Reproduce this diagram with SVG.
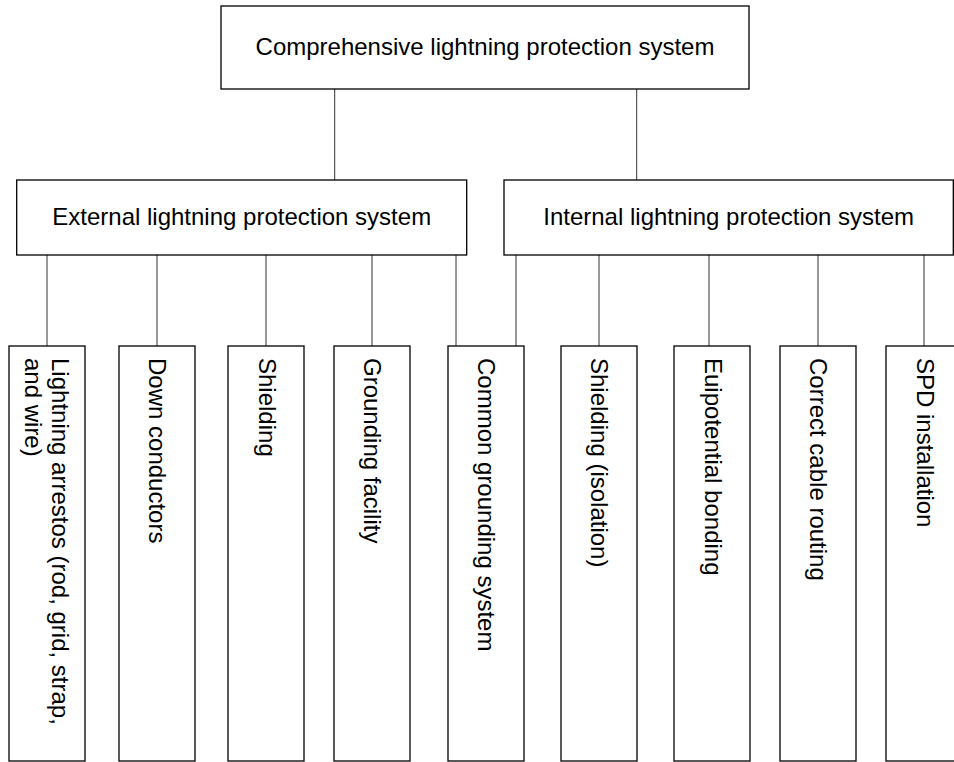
<svg xmlns="http://www.w3.org/2000/svg" width="954" height="762" viewBox="0 0 954 762">
<style>
.box{fill:#fff;stroke:#000;stroke-width:1.3}
.t{font-family:"Liberation Sans",Arial,sans-serif;font-size:24px;fill:#000}
.c{text-anchor:middle}
.ln{stroke:#333;stroke-width:1;fill:none}
</style>
<rect width="954" height="762" fill="#fff"/>
<g id="connectors">
<path class="ln" d="M334.7 89V180M636.7 89V180"/>
<path class="ln" d="M47 255V346M157 255V346M266 255V346M372 255V346M456 255V346"/>
<path class="ln" d="M516 255V346M599 255V346M709 255V346M818 255V346M924 255V346"/>
</g>
<g id="root"><rect class="box" x="221" y="6" width="528" height="83"/><text class="t c" x="485" y="55">Comprehensive lightning protection system</text></g>
<g id="external"><rect class="box" x="16.7" y="180" width="450" height="75"/><text class="t c" x="241.7" y="225">External lightning protection system</text></g>
<g id="internal"><rect class="box" x="504" y="180" width="449.3" height="75"/><text class="t c" x="728.7" y="225">Internal lightning protection system</text></g>
<g id="n1"><rect class="box" x="9" y="346" width="76" height="415"/><text class="t" transform="translate(52,358) rotate(90)">Lightning arrestos (rod, grid, strap,</text><text class="t" transform="translate(25,358) rotate(90)">and wire)</text></g>
<g id="n2"><rect class="box" x="119" y="346" width="76" height="415"/><text class="t" transform="translate(149,358) rotate(90)">Down conductors</text></g>
<g id="n3"><rect class="box" x="228" y="346" width="76" height="415"/><text class="t" transform="translate(259,358) rotate(90)">Shielding</text></g>
<g id="n4"><rect class="box" x="334" y="346" width="76" height="415"/><text class="t" transform="translate(364,358) rotate(90)">Grounding facility</text></g>
<g id="n5"><rect class="box" x="448" y="346" width="76" height="415"/><text class="t" transform="translate(478,358) rotate(90)">Common grounding system</text></g>
<g id="n6"><rect class="box" x="561" y="346" width="76" height="415"/><text class="t" transform="translate(591,358) rotate(90)">Shielding (isolation)</text></g>
<g id="n7"><rect class="box" x="674" y="346" width="76" height="415"/><text class="t" transform="translate(705,358) rotate(90)">Euipotential bonding</text></g>
<g id="n8"><rect class="box" x="780" y="346" width="76" height="415"/><text class="t" transform="translate(810,358) rotate(90)">Correct cable routing</text></g>
<g id="n9"><rect class="box" x="886" y="346" width="76" height="415"/><text class="t" transform="translate(917,358) rotate(90)">SPD installation</text></g>
</svg>
